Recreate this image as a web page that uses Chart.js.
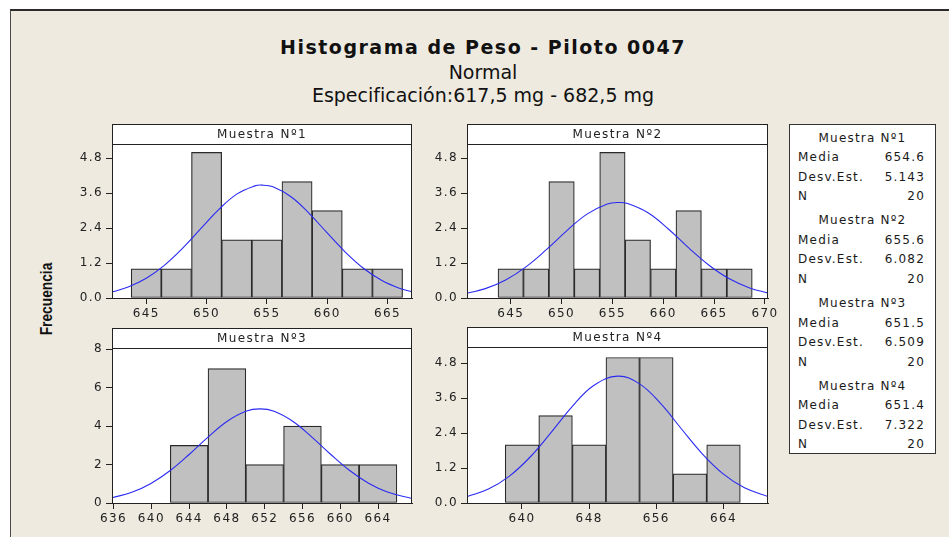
<!DOCTYPE html>
<html lang="es">
<head>
<meta charset="utf-8">
<script src="https://cdn.jsdelivr.net/npm/chart.js@4.4.1/dist/chart.umd.min.js"></script>
<style>
 html,body{margin:0;padding:0;background:#fff;}
 body{position:relative;width:949px;height:537px;overflow:hidden;font-family:'DejaVu Sans',Verdana,sans-serif;color:#111;}
 #frame{position:absolute;left:10px;top:9px;width:1000px;height:600px;background:#EEEAE0;border-top:2px solid #2b2b2b;border-left:1px solid #4a4a4a;}
 .ttl{position:absolute;left:0;width:966px;text-align:center;white-space:nowrap;line-height:1;color:#111;}
 #t1{top:38px;font-size:19px;font-weight:bold;letter-spacing:1.5px;}
 #t2{top:63px;font-size:19px;}
 #t3{top:86px;font-size:19px;}
 #ylab{position:absolute;left:45.8px;top:298.5px;transform:translate(-50%,-50%) rotate(-90deg) scaleX(0.81);font-family:'Liberation Sans',Arial,sans-serif;font-weight:bold;font-size:17px;white-space:nowrap;line-height:1;color:#111;}
 .pnl{position:absolute;}
 .pnl canvas{display:block;}
 #stats{position:absolute;left:789px;top:124px;width:145px;height:324.5px;background:#fff;border:1px solid #333;font-size:12px;letter-spacing:1.2px;color:#1a1a1a;padding-top:3.5px;box-sizing:content-box;}
 .blk{margin-bottom:4.8px;}
 .row{height:19.5px;line-height:19.5px;display:flex;justify-content:space-between;padding:0 10px 0 8px;white-space:nowrap;}
 .hdr{height:19.5px;line-height:19.5px;text-align:center;white-space:nowrap;}
</style>
</head>
<body>
<div id="frame"></div>
<div class="ttl" id="t1">Histograma de Peso - Piloto 0047</div>
<div class="ttl" id="t2">Normal</div>
<div class="ttl" id="t3">Especificación:617,5 mg - 682,5 mg</div>
<div id="ylab">Frecuencia</div>

<div class="pnl" style="left:52px;top:124px;width:380px;height:196px"><canvas id="c1" width="380" height="196"></canvas></div>
<div class="pnl" style="left:407px;top:124px;width:381px;height:196px"><canvas id="c2" width="381" height="196"></canvas></div>
<div class="pnl" style="left:52px;top:328px;width:380px;height:197px"><canvas id="c3" width="380" height="197"></canvas></div>
<div class="pnl" style="left:407px;top:327px;width:381px;height:198px"><canvas id="c4" width="381" height="198"></canvas></div>

<div id="stats"></div>

<script>
// ---------- data ----------
const sampleNames = ['Muestra Nº1', 'Muestra Nº2', 'Muestra Nº3', 'Muestra Nº4'];

// bin centres and counts of each histogram
const bins1 = [645, 647.5, 650, 652.5, 655, 657.5, 660, 662.5, 665];
const counts1 = [1, 1, 5, 2, 2, 4, 3, 1, 1];
const bins2 = [645, 647.5, 650, 652.5, 655, 657.5, 660, 662.5, 665, 667.5];
const counts2 = [1, 1, 4, 1, 5, 2, 1, 3, 1, 1];
const bins3 = [644, 648, 652, 656, 660, 664];
const counts3 = [3, 7, 2, 4, 2, 2];
const bins4 = [640, 644, 648, 652, 656, 660, 664];
const counts4 = [2, 3, 2, 5, 5, 1, 2];

// fitted normal curves, read point by point
const curveX1 = [642.2, 643.5, 645, 646.5, 648, 649.5, 651, 652.5, 654, 654.6, 655.5, 657, 658.5, 660, 661.5, 663, 664.5, 666, 667.1];
const curveY1 = [0.212, 0.378, 0.679, 1.122, 1.703, 2.371, 3.035, 3.568, 3.852, 3.878, 3.819, 3.478, 2.909, 2.235, 1.577, 1.022, 0.608, 0.332, 0.202];
const curveX2 = [640.7, 642.5, 644.5, 646.5, 648.5, 650.5, 652.5, 654.5, 655.6, 656.5, 658.5, 660.5, 662.5, 664.5, 666.5, 668.5, 670.3];
const curveY2 = [0.163, 0.322, 0.621, 1.071, 1.659, 2.308, 2.881, 3.227, 3.280, 3.244, 2.927, 2.371, 1.723, 1.124, 0.658, 0.346, 0.177];
const curveX3 = [635.8, 638, 640, 642, 644, 646, 648, 650, 651.5, 653, 655, 657, 659, 661, 663, 665, 667.7];
const curveY3 = [0.267, 0.571, 1.030, 1.690, 2.525, 3.431, 4.243, 4.775, 4.903, 4.775, 4.243, 3.431, 2.525, 1.690, 1.030, 0.571, 0.222];
const curveX4 = [633.5, 636, 638.5, 641, 643.5, 646, 648.5, 651.4, 654, 656.5, 659, 661.5, 664, 666.5, 669.4];
const curveY4 = [0.220, 0.477, 0.923, 1.589, 2.436, 3.321, 4.030, 4.359, 4.093, 3.420, 2.543, 1.683, 0.992, 0.520, 0.212];

// summary statistics
const statMedia = [654.6, 655.6, 651.5, 651.4];
const statDesv = [5.143, 6.082, 6.509, 7.322];
const statN = [20, 20, 20, 20];

// ---------- drawing ----------
Chart.defaults.font.family = "'DejaVu Sans', Verdana, sans-serif";

const spacing = {
  id: 'spacing',
  beforeUpdate(c) { c.ctx.letterSpacing = '1.4px'; },
  beforeDraw(c) { c.ctx.letterSpacing = '1.4px'; }
};

const panelFrame = {
  id: 'panelFrame',
  beforeDraw(chart) {
    const a = chart.chartArea, tb = chart.titleBlock, ctx = chart.ctx;
    ctx.save();
    ctx.fillStyle = '#ffffff';
    ctx.fillRect(a.left, tb.top, a.right - a.left, a.bottom - tb.top);
    ctx.restore();
  },
  afterDraw(chart) {
    const a = chart.chartArea, tb = chart.titleBlock, ctx = chart.ctx;
    ctx.save();
    ctx.strokeStyle = '#222';
    ctx.lineWidth = 1;
    ctx.strokeRect(a.left + 0.5, tb.top + 0.5, a.right - a.left - 1, a.bottom - tb.top);
    ctx.beginPath();
    ctx.moveTo(a.left, a.top + 0.5);
    ctx.lineTo(a.right, a.top + 0.5);
    ctx.stroke();
    ctx.restore();
  }
};

function buildPanel(id, spec) {
  return new Chart(document.getElementById(id), {
    type: 'bar',
    data: {
      datasets: [
        {
          type: 'line',
          data: spec.cx.map((x, i) => ({ x: x, y: spec.cy[i] })),
          borderColor: '#2a2af2', borderWidth: 1.1, pointRadius: 0, tension: 0.4, fill: false, order: 1
        },
        {
          type: 'bar',
          data: spec.bins.map((x, i) => ({ x: x, y: spec.counts[i] })),
          backgroundColor: '#C0C0C0', borderColor: '#2a2a2a', borderWidth: 1.2, borderSkipped: false,
          barPercentage: 1, categoryPercentage: 1, grouped: false, order: 2
        }
      ]
    },
    options: {
      responsive: false, animation: false, devicePixelRatio: 1,
      layout: { padding: { left: 0, right: 20, top: 0, bottom: 0 } },
      plugins: {
        legend: { display: false },
        tooltip: { enabled: false },
        title: {
          display: true, text: spec.title, fullSize: false, color: '#222',
          font: { size: 12, weight: 'normal' }, padding: { top: 4, bottom: 1.6 }
        }
      },
      scales: {
        x: {
          type: 'linear', min: spec.xMin, max: spec.xMax, offset: false,
          grid: { display: true, drawOnChartArea: false, drawTicks: true, tickLength: 6, color: '#222', offset: false },
          border: { display: true, color: '#222' },
          ticks: { stepSize: spec.xStep, includeBounds: false, autoSkip: false, maxRotation: 0, padding: 3, color: '#222', font: { size: 12 }, callback: v => String(Math.round(v)) },
          afterFit(s) { s.height = 22; }
        },
        y: {
          type: 'linear', min: 0, max: spec.yMax,
          grid: { display: true, drawOnChartArea: false, drawTicks: true, tickLength: 6, color: '#222' },
          border: { display: true, color: '#222' },
          ticks: { stepSize: spec.yStep, includeBounds: false, autoSkip: false, padding: 3, color: '#222', font: { size: 12 }, callback: v => Number(v).toFixed(spec.yDec) },
          afterFit(s) { s.width = 60; }
        }
      }
    },
    plugins: [spacing, panelFrame]
  });
}

buildPanel('c1', { title: sampleNames[0], bins: bins1, counts: counts1, cx: curveX1, cy: curveY1, xMin: 642.16, xMax: 667.03, xStep: 5, yMax: 5.29, yStep: 1.2, yDec: 1 });
buildPanel('c2', { title: sampleNames[1], bins: bins2, counts: counts2, cx: curveX2, cy: curveY2, xMin: 640.7, xMax: 670.3, xStep: 5, yMax: 5.29, yStep: 1.2, yDec: 1 });
buildPanel('c3', { title: sampleNames[2], bins: bins3, counts: counts3, cx: curveX3, cy: curveY3, xMin: 635.83, xMax: 667.6, xStep: 4, yMax: 8.07, yStep: 2, yDec: 0 });
buildPanel('c4', { title: sampleNames[3], bins: bins4, counts: counts4, cx: curveX4, cy: curveY4, xMin: 633.45, xMax: 669.3, xStep: 8, yMax: 5.36, yStep: 1.2, yDec: 1 });

// summary box
const stats = document.getElementById('stats');
sampleNames.forEach((name, i) => {
  const blk = document.createElement('div');
  blk.className = 'blk';
  const rows = [['Media', statMedia[i].toFixed(1)], ['Desv.Est.', statDesv[i].toFixed(3)], ['N', String(statN[i])]];
  let html = '<div class="hdr">' + name + '</div>';
  rows.forEach(r => { html += '<div class="row"><span>' + r[0] + '</span><span>' + r[1] + '</span></div>'; });
  blk.innerHTML = html;
  stats.appendChild(blk);
});
</script>
</body>
</html>
